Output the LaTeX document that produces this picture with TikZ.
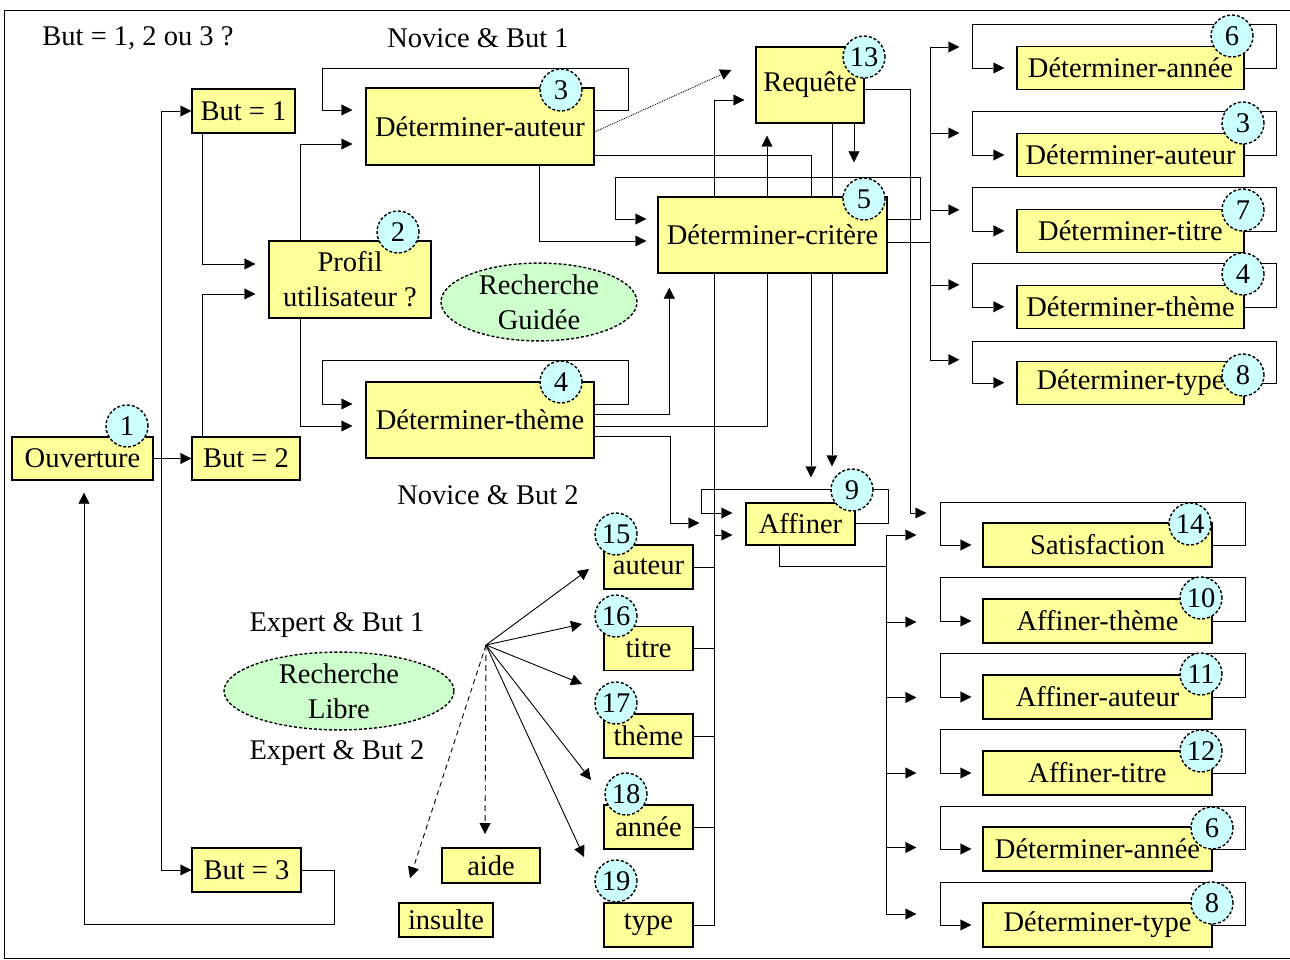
\documentclass[tikz,border=0pt]{standalone}
\usepackage{fontspec}
\setmainfont{Liberation Serif}
\usetikzlibrary{positioning,calc,shapes.geometric,arrows.meta,backgrounds}
\definecolor{boxyellow}{HTML}{FFFF99}
\definecolor{numcyan}{HTML}{CCFFFF}
\definecolor{zonegreen}{HTML}{CCFFCC}
\newcommand{\tf}{\fontsize{28.5}{35}\selectfont}

\begin{document}
\begin{tikzpicture}[x=1pt,y=-1pt,font=\tf,line width=1.4pt,
  box/.style={draw,fill=boxyellow,inner sep=0pt,align=center},
  item/.style={box,minimum width=89pt,minimum height=44pt},
  rbox/.style={box,minimum width=227pt,minimum height=43pt},
  sbox/.style={box,minimum width=229pt,minimum height=44pt},
  num/.style={circle,draw,dash pattern=on 3pt off 2pt,fill=numcyan,inner sep=0pt,minimum size=42pt},
  zone/.style={ellipse,draw,dash pattern=on 3pt off 2pt,fill=zonegreen,inner sep=0pt,align=center},
  arr/.style={-{Triangle[length=11pt,width=11pt]}},
  short/.style={shorten >=#1}, short/.default=12pt,
  fine/.style={line width=0.9pt}]
\useasboundingbox (0,0) rectangle (1290,960);
\draw[line width=1pt] (1290,11) -- (4,11) -- (4,958) -- (1290,958);
%
\node (qbut) at (138,38)  {But = 1, 2 ou 3 ?};
\node (nov1) at (478,38)  {Novice \& But 1};
\node (nov2) at (488,495) {Novice \& But 2};
\node (exp1) at (337,625) {Expert \& But 1};
\node (exp2) at (337,753) {Expert \& But 2};
\node[zone,minimum width=196pt,minimum height=76pt] (guidee) at (539,302) {Recherche\\Guidée};
\node[zone,minimum width=230pt,minimum height=76pt] (libre)  at (339,691) {Recherche\\Libre};
%
\node[box,minimum width=141pt,minimum height=43pt] (ouv)     at (82.5,458.5) {Ouverture};
\node[box,minimum width=103pt,minimum height=44pt] (but1)    at (243.5,111)  {But = 1};
\node[box,minimum width=108pt,minimum height=43pt] (but2)    at (246,458.5)  {But = 2};
\node[box,minimum width=109pt,minimum height=44pt] (but3)    at (246.5,870)  {But = 3};
\node[box,minimum width=162pt,minimum height=77pt] (profil)  at (350,279.5)  {Profil\\utilisateur ?};
\node[box,minimum width=228pt,minimum height=77pt] (dauteur) at (480,126.5)  {Déterminer-auteur};
\node[box,minimum width=228pt,minimum height=76pt] (dtheme)  at (480,420)    {Déterminer-thème};
\node[box,minimum width=108pt,minimum height=76pt] (requete) at (810,85)     {Requête};
\node[box,minimum width=229pt,minimum height=76pt] (critere) at (772.5,235)  {Déterminer-critère};
\node[box,minimum width=109pt,minimum height=42pt] (affiner) at (800.5,524)  {Affiner};
\node[box,minimum width=98pt,minimum height=35pt]  (aide)    at (491,865.5)  {aide};
\node[box,minimum width=94pt,minimum height=34pt]  (insulte) at (446,920)    {insulte};
%
\node[item] (iauteur) at (648.5,567)   {auteur};
\node[item] (ititre)  at (648.5,648.5) {titre};
\node[item] (itheme)  at (648.5,736)   {thème};
\node[item] (iannee)  at (648.5,827)   {année};
\node[item] (itype)   at (648.5,925)   {type};
%
\node[rbox] (rannee) at (1130.5,68)         {Déterminer-année};
\node[rbox,below=42.6pt of rannee]  (rauteur) {Déterminer-auteur};
\node[rbox,below=31.5pt of rauteur] (rtitre)  {Déterminer-titre};
\node[rbox,below=31.5pt of rtitre]  (rtheme)  {Déterminer-thème};
\node[rbox,below=31.5pt of rtheme]  (rtype)   {Déterminer-type};
%
\node[sbox] (satisf) at (1097.5,545)        {Satisfaction};
\node[sbox,below=30.6pt of satisf]  (atheme)  {Affiner-thème};
\node[sbox,below=30.6pt of atheme]  (aauteur) {Affiner-auteur};
\node[sbox,below=30.6pt of aauteur] (atitre)  {Affiner-titre};
\node[sbox,below=30.6pt of atitre]  (bannee)  {Déterminer-année};
\node[sbox,below=30.6pt of bannee]  (btype)   {Déterminer-type};
%
\node[num] (n1)  at (127,426)  {1};
\node[num] (n2)  at (398,232)  {2};
\node[num] (n3)  at (561,90)   {3};
\node[num] (n4)  at (561,382)  {4};
\node[num] (n13) at (864,57)   {13};
\node[num] (n5)  at (864,199)  {5};
\node[num] (n9)  at (852,490)  {9};
\node[num] (n6)  at (1232,36)  {6};
\node[num] (n3r) at (1243,123) {3};
\node[num] (n7)  at (1243,210) {7};
\node[num] (n4r) at (1243,274) {4};
\node[num] (n8)  at (1243,375) {8};
\node[num] (n14) at (1190,524) {14};
\node[num] (n10) at (1201,598) {10};
\node[num] (n11) at (1201,674) {11};
\node[num] (n12) at (1201,751) {12};
\node[num] (n6b) at (1212,828) {6};
\node[num] (n8b) at (1212,903) {8};
\node[num] (n15) at (616,534)  {15};
\node[num] (n16) at (616,616)  {16};
\node[num] (n17) at (616,703)  {17};
\node[num] (n18) at (626,794)  {18};
\node[num] (n19) at (616,881)  {19};
%
\coordinate (fan)   at (486,645);
\coordinate (t15)   at (589,569);
\coordinate (t16)   at (582,624);
\coordinate (t17)   at (582,684);
\coordinate (t18)   at (591,780);
\coordinate (t19)   at (584,857);
\coordinate (taide) at (485,834);
\coordinate (tins)  at (410,878);
%
\begin{scope}[on background layer]
% ouverture et buts
\draw[arr] (ouv) -- (but2);
\draw[arr] ($(ouv.east)+(7,0)$) |- (but1);
\draw[arr] ($(ouv.east)+(7,0)$) |- (but3);
\draw[arr] (but3.east) -- ++(32,0) -- ++(0,54) -| ($(ouv.south)+(1.5,12)$);
\draw[arr,short=13pt] ($(but1.south west)+(11,0)$) |- ($(profil.west)+(0,-15.5)$);
\draw[arr,short=13pt] ($(but2.north west)+(11,0)$) |- ($(profil.west)+(0,14.5)$);
\draw[arr,short=13pt] ($(profil.north west)+(32,0)$) |- ($(dauteur.west)+(0,17.5)$);
\draw[arr,short=13pt] ($(profil.south west)+(32,0)$) |- ($(dtheme.west)+(0,6)$);
% boucles
\draw[arr,short=13pt] ($(dauteur.east)+(0,-16.5)$) -- ++(33,0) -- ++(0,-42)
  -| ($(dauteur.west)+(-43,-16.5)$) -- ($(dauteur.west)+(0,-16.5)$);
\draw[arr,short=13pt] ($(dtheme.east)+(0,-16)$) -- ++(33,0) -- ++(0,-44)
  -| ($(dtheme.west)+(-43,-16)$) -- ($(dtheme.west)+(0,-16)$);
\draw[arr,short=11pt] ($(critere.east)+(0,-16)$) -- ++(32,0) -- ++(0,-42)
  -| ($(critere.west)+(-42,-16)$) -- ($(critere.west)+(0,-16)$);
\draw[arr,short=13pt] ($(affiner.east)+(0,-1)$) -- ++(32,0) |- ($(affiner.north west)+(-44,-13)$)
  |- ($(affiner.west)+(0,-11)$);
% determiner-auteur, determiner-theme
\draw[arr,fine,densely dotted] ($(dauteur.east)+(0,5.5)$) -- ($(requete.west)+(-24,-15)$);
\draw[arr] ($(dauteur.east)+(0,28.5)$) -| ($(affiner.north)+(10.5,-25)$);
\draw[arr,short=11pt] ($(dauteur.south)+(59,0)$) |- ($(critere.west)+(0,6)$);
\draw[arr] ($(dtheme.east)+(0,-6)$) -| ($(critere.south west)+(12,14)$);
\draw[arr] ($(dtheme.east)+(0,6)$) -| ($(requete.south)+(-43,12)$);
\draw[arr] ($(dtheme.east)+(0,16)$) -- ++(75,0) |- ($(affiner.west)+(-46,-1)$);
% requete, critere
\draw[arr] ($(requete.south)+(22,0)$) -- ($(affiner.north)+(31.5,-36)$);
\draw[arr,short=34pt] ($(requete.south)+(44,0)$) -- ($(critere.north)+(81.5,0)$);
\draw[arr] ($(requete.east)+(0,4)$) -- ++(45,0) |- ($(satisf.west)+(-56,-32)$);
\draw ($(critere.east)+(0,7)$) -- ++(42,0) coordinate (tbus);
\draw[arr] (tbus) |- ($(rannee.west)+(-57,-21)$);
\draw[arr] (tbus) |- ($(rauteur.west)+(-57,-22)$);
\draw[arr] (tbus) |- ($(rtitre.west)+(-57,-21)$);
\draw[arr] (tbus) |- ($(rtheme.west)+(-57,-22)$);
\draw[arr] (tbus) |- ($(rtype.west)+(-57,-23)$);
\draw[arr,short] (rannee.east) -- ++(31,0) -- ++(0,-44) -| ($(rannee.west)+(-44,0)$) -- (rannee.west);
\draw[arr,short] (rauteur.east) -- ++(31,0) -- ++(0,-44) -| ($(rauteur.west)+(-44,0)$) -- (rauteur.west);
\draw[arr,short] (rtitre.east) -- ++(31,0) -- ++(0,-44) -| ($(rtitre.west)+(-44,0)$) -- (rtitre.west);
\draw[arr,short] (rtheme.east) -- ++(31,0) -- ++(0,-44) -| ($(rtheme.west)+(-44,0)$) -- (rtheme.west);
\draw[arr,short] (rtype.east) -- ++(31,0) -- ++(0,-42) -| ($(rtype.west)+(-44,0)$) -- (rtype.west);
% affiner
\draw ($(affiner.south)+(-21.5,0)$) |- ($(satisf.west)+(-96,21)$) coordinate (bbus);
\draw[arr] (bbus) |- ($(satisf.west)+(-66,-10)$);
\draw[arr] (bbus) |- ($(atheme.west)+(-66,1)$);
\draw[arr] (bbus) |- ($(aauteur.west)+(-66,0.5)$);
\draw[arr] (bbus) |- ($(atitre.west)+(-66,0)$);
\draw[arr] (bbus) |- ($(bannee.west)+(-66,-1.5)$);
\draw[arr] (bbus) |- ($(btype.west)+(-66,-11)$);
\draw[arr,short=11pt] (satisf.east) -- ++(32,0) -- ++(0,-43) -| ($(satisf.west)+(-42,0)$) -- (satisf.west);
\draw[arr,short=11pt] (atheme.east) -- ++(32,0) -- ++(0,-44) -| ($(atheme.west)+(-42,0)$) -- (atheme.west);
\draw[arr,short=11pt] (aauteur.east) -- ++(32,0) -- ++(0,-44) -| ($(aauteur.west)+(-42,0)$) -- (aauteur.west);
\draw[arr,short=11pt] (atitre.east) -- ++(32,0) -- ++(0,-44) -| ($(atitre.west)+(-42,0)$) -- (atitre.west);
\draw[arr,short=11pt] (bannee.east) -- ++(32,0) -- ++(0,-43) -| ($(bannee.west)+(-42,0)$) -- (bannee.west);
\draw[arr,short=11pt] (btype.east) -- ++(32,0) -- ++(0,-43) -| ($(btype.west)+(-42,0)$) -- (btype.west);
% recherche libre
\draw[arr,short=11pt] (itype.east) -- ++(20,0) coordinate (ibus) |- ($(requete.west)+(0,15)$);
\draw (iauteur.east) -- (ibus |- iauteur.east);
\draw (ititre.east)  -- (ibus |- ititre.east);
\draw (itheme.east)  -- (ibus |- itheme.east);
\draw (iannee.east)  -- (ibus |- iannee.east);
\path ($(affiner.west)+(0,11)$) coordinate (aff2);
\draw[arr,short=13pt] (ibus |- aff2) -- (aff2);
\draw[arr,fine] (fan) -- (t15);
\draw[arr,fine] (fan) -- (t16);
\draw[arr,fine] (fan) -- (t17);
\draw[arr,fine] (fan) -- (t18);
\draw[arr,fine] (fan) -- (t19);
\draw[arr,fine,dash pattern=on 6pt off 4pt] (fan) -- (taide);
\draw[arr,fine,dash pattern=on 5pt off 4pt] (fan) -- (tins);
\end{scope}
\end{tikzpicture}
\end{document}
